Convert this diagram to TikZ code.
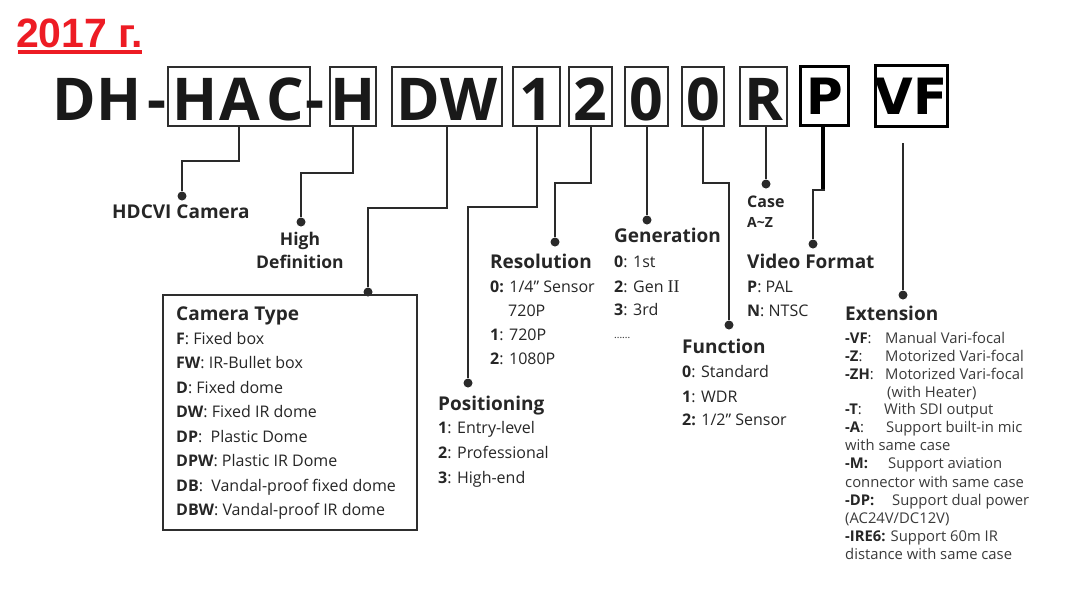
\documentclass[tikz,border=0pt]{standalone}
\usepackage{fontspec}
\setmainfont{Open Sans}
\newfontfamily\djvfont{DejaVu Sans}
\newfontfamily\libfont{Liberation Sans}
\newfontfamily\serifnum{Liberation Serif}
\newcommand\ekey[2]{\makebox[#1pt][l]{#2}}
\definecolor{redc}{HTML}{ED1C24}
\definecolor{boxc}{HTML}{2E2E2E}
\definecolor{linec}{HTML}{2A2A2A}
\definecolor{txt}{HTML}{262626}
\definecolor{txtl}{HTML}{3A3A3A}
\tikzset{
  codebox/.style={draw=boxc, line width=1.8pt, inner sep=0pt, minimum height=59pt},
  newbox/.style={draw=black, line width=3pt, inner sep=0pt},
  codeletter/.style={font=\bfseries\fontsize{59}{59}\selectfont, text=black!90, inner sep=0pt, anchor=base},
  newletter/.style={font=\djvfont\bfseries\fontsize{50}{50}\selectfont, text=black, inner sep=0pt, anchor=base},
  conn/.style={draw=linec, line width=2pt},
  dotn/.style={circle, fill=linec, inner sep=0pt, minimum size=9pt},
  head/.style={font=\bfseries\fontsize{19}{19}\selectfont, text=txt, inner sep=0pt, anchor=base west},
  item/.style={font=\fontsize{16}{16}\selectfont, text=txt, inner sep=0pt, anchor=base west},
  extitem/.style={font=\fontsize{14.8}{14.8}\selectfont, text=txtl, inner sep=0pt, anchor=base west},
}
\begin{document}
\begin{tikzpicture}[x=1pt,y=-1pt]
\useasboundingbox (0,0) rectangle (1076,606);
\fill[white] (0,0) rectangle (1076,606);

% title
\node[font=\libfont\bfseries\fontsize{41}{41}\selectfont, text=redc, anchor=base west, inner sep=0pt] (title) at (16,47) {2017 г.};
\draw[redc, line width=4pt] ([xshift=2pt,yshift=-5pt]title.base west) -- ([xshift=-1pt,yshift=-5pt]title.base east);

% code boxes
\node[codebox, minimum width=142pt] (hac) at (239,96.5) {};
\node[codebox, minimum width=46pt] (hbox) at (353,96.5) {};
\node[codebox, minimum width=110pt] (dw) at (447,96.5) {};
\node[codebox, minimum width=47pt] (b1) at (536.5,96.5) {};
\node[codebox, minimum width=43pt] (b2) at (590.5,96.5) {};
\node[codebox, minimum width=43pt] (b3) at (646.5,96.5) {};
\node[codebox, minimum width=42pt] (b4) at (703,96.5) {};
\node[codebox, minimum width=47pt] (rbox) at (763.5,96.5) {};
\node[newbox, minimum width=48pt, minimum height=59pt] (pbox) at (824,95.5) {};
\node[newbox, minimum width=72pt, minimum height=61pt] (vfbox) at (911,95.5) {};

% code letters
\node[codeletter] (lD) at (74,120) {D};
\node[codeletter] (lH) at (119,120) {H};
\node[codeletter] (dash1) at (157,120) {-};
\node[codeletter] (lH2) at (195,120) {H};
\node[codeletter] (lA) at (239.5,120) {A};
\node[codeletter] (lC) at (285,120) {C};
\node[codeletter] (dash2) at (315,120) {-};
\node[codeletter] (lH3) at (353,120) {H};
\node[codeletter] (lDW) at (447,120) {DW};
\node[codeletter] (l1) at (536.5,120) {1};
\node[codeletter] (l2) at (590.5,120) {2};
\node[codeletter] (l0a) at (646.5,120) {0};
\node[codeletter] (l0b) at (703,120) {0};
\node[codeletter] (lR) at (763.5,120) {R};
\node[newletter] (lP) at (825,114) {P};
\node[newletter] (lVF) at (911,114) {VF};

% dots
\node[dotn] (d1) at (182,196) {};
\node[dotn] (d2) at (301,222) {};
\node[dotn] (d3) at (368,292) {};
\node[dotn] (d4) at (468,383) {};
\node[dotn] (d5) at (555,242) {};
\node[dotn] (d6) at (647,220) {};
\node[dotn] (d7) at (729,325) {};
\node[dotn] (d8) at (766,184) {};
\node[dotn] (d9) at (813,244) {};
\node[dotn] (d10) at (903,295) {};

% bend levels
\coordinate (lv1) at (0,161);
\coordinate (lv2) at (0,173);
\coordinate (lv3) at (0,208);
\coordinate (lv4) at (0,207);
\coordinate (lv5) at (0,183);
\coordinate (pj) at (823,190);
\coordinate (vfs) at (903,143);

% connectors
\draw[conn] (hac.south) -- (hac.south |- lv1) -| (d1);
\draw[conn] (hbox.south) -- (hbox.south |- lv2) -| (d2);
\draw[conn] (dw.south) -- (dw.south |- lv3) -| (d3);
\draw[conn] (b1.south) -- (b1.south |- lv4) -| (d4);
\draw[conn] (b2.south) -- (b2.south |- lv5) -| (d5);
\draw[conn] (b3.south -| d6) -- (d6);
\draw[conn] (b4.south) -- (b4.south |- lv5) -| (d7);
\draw[conn] (rbox.south -| d8) -- (d8);
\draw[line width=4pt, black] (pbox.south -| pj) -- (pj);
\draw[conn] ([xshift=2pt]pj) -| (d9);
\draw[conn] (vfs) -- (d10);

% HDCVI / High Definition
\node[head] (hdcvi) at (112,218) {HDCVI Camera};
\node[head, anchor=base, font=\bfseries\fontsize{17.5}{17.5}\selectfont] (high) at (300,245) {High};
\node[head, anchor=base, font=\bfseries\fontsize{17.5}{17.5}\selectfont] (defn) at (300,268) {Definition};

% Camera type box
\node[draw=boxc, line width=1.5pt, minimum width=254pt, minimum height=235pt, inner sep=0pt] (ctbox) at (290,412.5) {};
\node[head] (cth) at (176,320) {Camera Type};
\foreach \t [count=\i] in {{\textbf{F}: Fixed box},{\textbf{FW}: IR-Bullet box},{\textbf{D}: Fixed dome},{\textbf{DW}: Fixed IR dome},{\textbf{DP}:\ \ Plastic Dome},{\textbf{DPW}: Plastic IR Dome},{\textbf{DB}:\ \ Vandal-proof fixed dome},{\textbf{DBW}: Vandal-proof IR dome}}
  \node[item] (ct\i) at (176,{344+24.5*(\i-1)}) {\t};

% Positioning
\node[head] (posh) at (438,410) {Positioning};
\foreach \t [count=\i] in {{\textbf{1}: Entry-level},{\textbf{2}: Professional},{\textbf{3}: High-end}}
  \node[item] (pos\i) at (438,{433+25*(\i-1)}) {\t};

% Resolution
\node[head] (resh) at (490,268) {Resolution};
\node[item] (res1) at (490,292) {\textbf{0:} 1/4” Sensor};
\node[item] (res2) at (508,316) {720P};
\node[item] (res3) at (490,340) {\textbf{1}: 720P};
\node[item] (res4) at (490,364) {\textbf{2}: 1080P};

% Generation
\node[head] (genh) at (614,242) {Generation};
\node[item] (gen1) at (614,267) {\textbf{0}: 1st};
\node[item] (gen2) at (614,292) {\textbf{2}: Gen {\serifnum\fontsize{18}{18}\selectfont II}};
\node[item] (gen3) at (614,315) {\textbf{3}: 3rd};
\node[item, font=\fontsize{10}{10}\selectfont] (gen4) at (614,338) {......};

% Function
\node[head] (funh) at (682,353) {Function};
\node[item] (fun1) at (682,377) {\textbf{0}: Standard};
\node[item] (fun2) at (682,402) {\textbf{1}: WDR};
\node[item] (fun3) at (682,425) {\textbf{2:} 1/2” Sensor};

% Case
\node[head, font=\bfseries\fontsize{16}{16}\selectfont] (caseh) at (747,207) {Case};
\node[item, font=\bfseries\fontsize{14}{14}\selectfont] (case1) at (747,227) {A\textasciitilde Z};

% Video format
\node[head] (vidh) at (747,268) {Video Format};
\node[item] (vid1) at (747,292) {\textbf{P}: PAL};
\node[item] (vid2) at (747,316) {\textbf{N}: NTSC};

% Extension
\node[head] (exth) at (845,320) {Extension};
\node[extitem] (e1) at (845,343) {\ekey{40}{\textcolor{txt}{\textbf{-VF}:}}Manual Vari-focal};
\node[extitem] (e2) at (845,361) {\ekey{40}{\textcolor{txt}{\textbf{-Z}:}}Motorized Vari-focal};
\node[extitem] (e3) at (845,379) {\ekey{40}{\textcolor{txt}{\textbf{-ZH}:}}Motorized Vari-focal};
\node[extitem] (e4) at (887,397) {(with Heater)};
\node[extitem] (e5) at (845,414) {\ekey{39}{\textcolor{txt}{\textbf{-T}:}}With SDI output};
\node[extitem] (e6) at (845,432) {\ekey{41}{\textcolor{txt}{\textbf{-A}:}}Support built-in mic};
\node[extitem] (e7) at (845,450) {with same case};
\node[extitem] (e8) at (845,468) {\ekey{43}{\textcolor{txt}{\textbf{-M:}}}Support aviation};
\node[extitem] (e9) at (845,487) {connector with same case};
\node[extitem] (e10) at (845,505) {\ekey{47}{\textcolor{txt}{\textbf{-DP:}}}Support dual power};
\node[extitem] (e11) at (845,523) {(AC24V/DC12V)};
\node[extitem] (e12) at (845,541) {\textcolor{txt}{\textbf{-IRE6:}} Support 60m IR};
\node[extitem] (e13) at (845,559) {distance with same case};
\end{tikzpicture}
\end{document}
